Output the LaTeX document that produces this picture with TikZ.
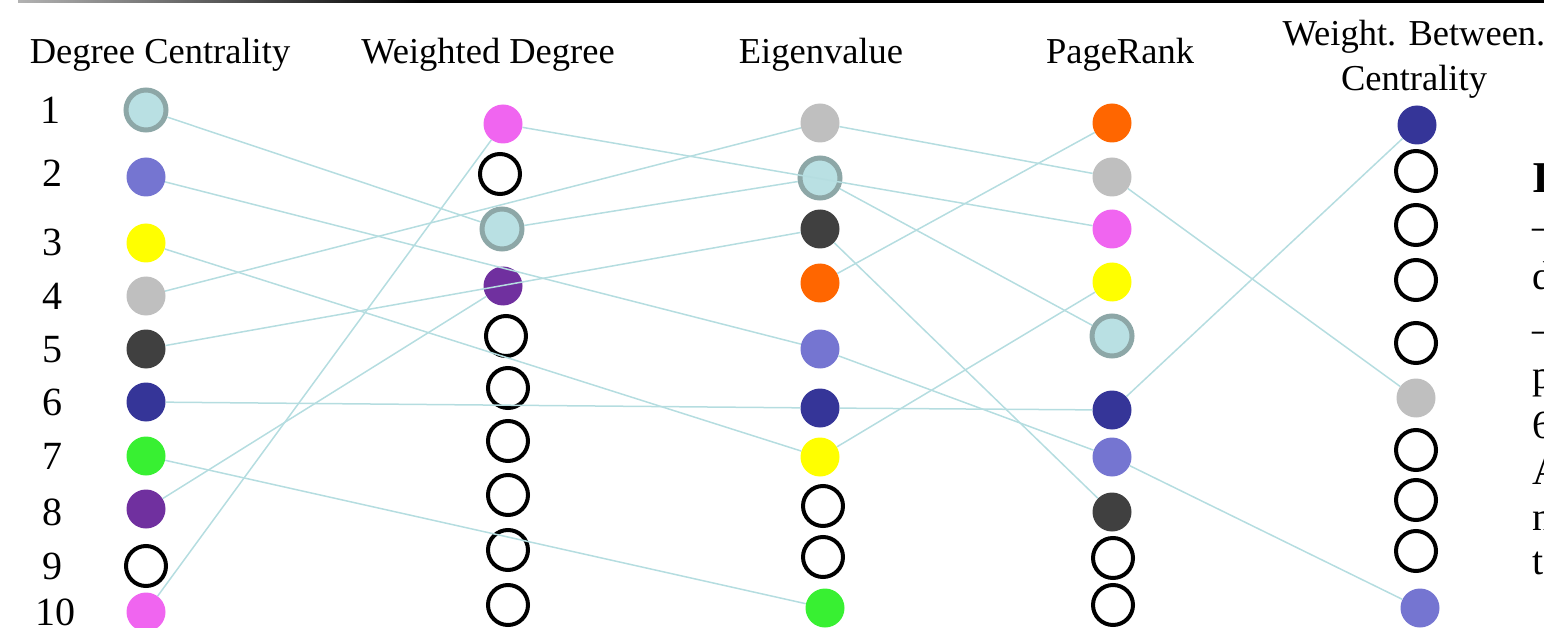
\documentclass[tikz,border=0pt]{standalone}
\usepackage{fontspec}
\setmainfont{Liberation Serif}
\definecolor{lbc}{HTML}{B9E0E3}
\definecolor{ringc}{HTML}{8DA7A7}
\definecolor{slatec}{HTML}{7575D1}
\definecolor{yelc}{HTML}{FFFF00}
\definecolor{silc}{HTML}{BFBFBF}
\definecolor{dgc}{HTML}{404040}
\definecolor{navc}{HTML}{353598}
\definecolor{grnc}{HTML}{38F032}
\definecolor{purc}{HTML}{70309F}
\definecolor{magc}{HTML}{F065F0}
\definecolor{orac}{HTML}{FF6600}
\definecolor{linkc}{HTML}{B5DDE0}
\tikzset{
  pt/.style={circle,inner sep=0pt,minimum size=39pt,draw=none},
  emp/.style={circle,inner sep=0pt,minimum size=40pt,draw=black,line width=4pt,fill=white},
  lbn/.style={circle,inner sep=0pt,minimum size=40pt,draw=ringc,line width=5pt,fill=lbc},
  sln/.style={pt,fill=slatec},
  yen/.style={pt,fill=yelc},
  sin/.style={pt,fill=silc},
  dgn/.style={pt,fill=dgc},
  nan/.style={pt,fill=navc},
  grn/.style={pt,fill=grnc},
  pun/.style={pt,fill=purc},
  man/.style={pt,fill=magc},
  orn/.style={pt,fill=orac},
  link/.style={draw=linkc,line width=1.5pt},
  ttl/.style={font=\fontsize{36.5}{40}\selectfont,inner sep=0pt,anchor=base},
  num/.style={font=\fontsize{40}{44}\selectfont,inner sep=0pt,anchor=base},
  side/.style={font=\fontsize{40}{44}\selectfont,inner sep=0pt,anchor=base west}
}
\begin{document}
\begin{tikzpicture}[x=1pt,y=-1pt]
\useasboundingbox (0,0) rectangle (1544,628);
\clip (0,0) rectangle (1544,628);
% top rule
\shade[left color=gray!60,right color=black] (18,0) rectangle (420,3);
\fill[black] (419,0) rectangle (1544,3);
% titles
\node[ttl] (t1) at (160,64) {Degree Centrality};
\node[ttl] (t2) at (488,64) {Weighted Degree};
\node[ttl] (t3) at (821,64) {Eigenvalue};
\node[ttl] (t4) at (1120,64) {PageRank};
\node[ttl] (t5) at (1414,46) {Weight. Between.};
\node[ttl] (t6) at (1414,91) {Centrality};
% rank numbers
\node[num] (n1) at (50,124) {1};
\node[num] (n2) at (52,187) {2};
\node[num] (n3) at (52,256) {3};
\node[num] (n4) at (52,309) {4};
\node[num] (n5) at (52,362) {5};
\node[num] (n6) at (52,415) {6};
\node[num] (n7) at (52,469) {7};
\node[num] (n8) at (52,525) {8};
\node[num] (n9) at (52,579) {9};
\node[num] (n10) at (55,625) {10};
% column 1
\node[lbn] (a1) at (146,110) {};
\node[sln] (a2) at (146,177) {};
\node[yen] (a3) at (146,243) {};
\node[sin] (a4) at (146,296) {};
\node[dgn] (a5) at (146,349) {};
\node[nan] (a6) at (146,402) {};
\node[grn] (a7) at (146,456) {};
\node[pun] (a8) at (146,509) {};
\node[emp] (a9) at (146,566) {};
\node[man] (a10) at (146,612) {};
% column 2
\node[man] (b1) at (503,124) {};
\node[emp] (b2) at (500,174) {};
\node[lbn] (b3) at (502,229) {};
\node[pun] (b4) at (503,286) {};
\node[emp] (b5) at (506,336) {};
\node[emp] (b6) at (508,388) {};
\node[emp] (b7) at (508,441) {};
\node[emp] (b8) at (508,495) {};
\node[emp] (b9) at (508,550) {};
\node[emp] (b10) at (508,605) {};
% column 3
\node[sin] (c1) at (820,123) {};
\node[lbn] (c2) at (820,178) {};
\node[dgn] (c3) at (820,229) {};
\node[orn] (c4) at (820,283) {};
\node[sln] (c5) at (820,349) {};
\node[nan] (c6) at (820,408) {};
\node[yen] (c7) at (820,457) {};
\node[emp] (c8) at (823,506) {};
\node[emp] (c9) at (823,557) {};
\node[grn] (c10) at (825,608) {};
% column 4
\node[orn] (d1) at (1112,123) {};
\node[sin] (d2) at (1112,177) {};
\node[man] (d3) at (1112,229) {};
\node[yen] (d4) at (1112,282) {};
\node[lbn] (d5) at (1112,336) {};
\node[nan] (d6) at (1112,410) {};
\node[sln] (d7) at (1112,457) {};
\node[dgn] (d8) at (1112,512) {};
\node[emp] (d9) at (1113,558) {};
\node[emp] (d10) at (1113,605) {};
% column 5
\node[nan] (e1) at (1417,125) {};
\node[emp] (e2) at (1416,171) {};
\node[emp] (e3) at (1416,225) {};
\node[emp] (e4) at (1416,280) {};
\node[emp] (e5) at (1416,343) {};
\node[sin] (e6) at (1416,398) {};
\node[emp] (e7) at (1416,450) {};
\node[emp] (e8) at (1416,500) {};
\node[emp] (e9) at (1416,551) {};
\node[sln] (e10) at (1420,608) {};
% links
\draw[link] (a1) -- (b3);
\draw[link] (a2) -- (c5);
\draw[link] (a3) -- (c7);
\draw[link] (a4) -- (c1);
\draw[link] (a5) -- (c3);
\draw[link] (a6) -- (c6);
\draw[link] (a7) -- (c10);
\draw[link] (a8) -- (b4);
\draw[link] (a10) -- (b1);
\draw[link] (b1) -- (d3);
\draw[link] (b3) -- (c2);
\draw[link] (c1) -- (d2);
\draw[link] (c2) -- (d5);
\draw[link] (c3) -- (d8);
\draw[link] (c4) -- (d1);
\draw[link] (c5) -- (d7);
\draw[link] (c6) -- (d6);
\draw[link] (c7) -- (d4);
\draw[link] (d6) -- (e1);
\draw[link] (d2) -- (e6);
\draw[link] (d7) -- (e10);
% side text (cut off at the right edge)
\node[side,font=\fontsize{44}{48}\selectfont\bfseries] (s1) at (1532,193) {I};
\node[side] (s2) at (1532,240) {–};
\node[side] (s3) at (1532,290) {d};
\node[side] (s4) at (1532,342) {–};
\node[side] (s5) at (1532,388) {p};
\node[side] (s6) at (1532,438) {6};
\node[side] (s7) at (1532,484) {A};
\node[side] (s8) at (1532,530) {n};
\node[side] (s9) at (1532,574) {t};
\end{tikzpicture}
\end{document}
